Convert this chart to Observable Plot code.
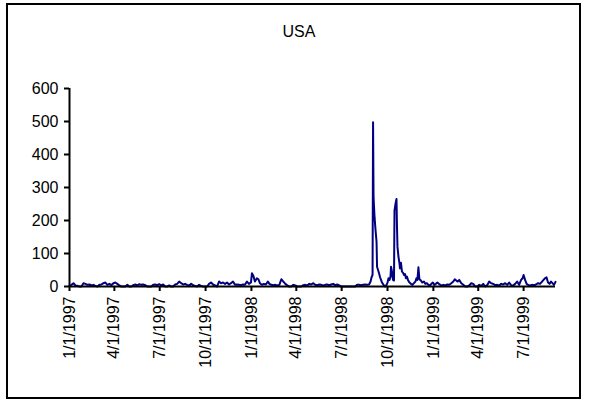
<!DOCTYPE html>
<html>
<head>
<meta charset="utf-8">
<script src="https://cdn.jsdelivr.net/npm/d3@7"></script>
<script src="https://cdn.jsdelivr.net/npm/@observablehq/plot@0.6"></script>
<style>
  html, body { margin: 0; padding: 0; background: #fff; }
  #wrap { position: relative; width: 589px; height: 405px; overflow: hidden; font-family: "Liberation Sans", Arial, sans-serif; }
  #frame { position: absolute; left: 6px; top: 3px; width: 575px; height: 396px; border: 2px solid #000; box-sizing: border-box; }
  #title { position: absolute; left: 0; width: 598px; top: 23px; text-align: center; font-size: 16px; color: #000; }
  #chart { position: absolute; left: 0; top: 0; }
</style>
</head>
<body>
<div id="wrap">
  <div id="frame"></div>
  <div id="title">USA</div>
  <div id="chart"></div>
</div>
<script>
const seriesStart = "1/1/1997";
const dayIndex = [0,4,8,12,16,20,24,28,32,36,40,44,48,52,56,60,64,68,72,76,80,84,88,92,96,100,104,108,112,116,120,124,128,132,136,140,144,148,152,156,160,164,168,172,176,180,184,188,192,196,200,204,208,212,216,220,224,228,232,236,240,244,248,252,256,260,264,268,272,276,280,284,288,292,296,300,304,308,312,316,320,324,328,332,336,340,344,348,352,356,360,364,366,369,372,376,379,382,386,390,394,398,401,405,409,413,417,421,425,429,433,437,441,445,449,453,457,461,465,469,473,477,481,485,489,493,497,501,505,509,513,517,521,525,529,533,537,541,545,549,553,557,561,565,569,573,577,581,585,589,593,597,601,604,606,608,609,610,612,614,616,617,619,621,623,625,627,630,633,636,638,640,642,644,645,647,649,651,652,654,656,657,658,660,662,663,665,667,669,671,673,675,677,679,682,685,688,691,694,696,698,700,702,705,708,711,714,717,720,723,726,729,732,735,738,741,744,747,750,754,758,762,766,770,773,776,779,782,786,790,794,798,802,806,810,814,818,822,826,830,834,838,842,846,850,854,858,862,866,870,874,878,882,886,890,894,898,902,906,909,911,914,917,920,924,928,932,936,940,944,948,951,954,957,960,963,966,969,972,975];
const usa = [2,5,10,3,2,0,0,10,8,5,6,3,5,2,0,5,6,10,12,5,8,4,10,12,8,3,0,0,0,5,0,0,4,6,3,7,5,6,4,0,0,0,5,6,4,7,3,6,0,0,3,0,0,6,8,15,10,6,8,5,3,8,4,2,0,5,2,0,0,0,8,12,6,3,0,15,10,12,8,12,6,10,15,5,6,5,4,6,5,15,8,12,40,32,15,25,22,10,5,8,6,15,8,5,4,5,3,5,22,15,8,3,0,0,5,3,0,0,0,4,5,3,8,6,10,5,4,6,5,3,5,6,4,6,8,4,6,3,0,0,0,0,0,0,0,0,5,5,4,5,6,5,6,15,28,35,498,270,210,170,135,60,50,40,28,20,12,5,0,5,12,25,20,30,60,45,20,18,230,250,265,180,120,90,70,55,72,45,42,35,38,25,30,20,12,8,5,10,15,25,20,58,22,18,12,15,8,10,5,3,8,12,5,8,12,8,5,3,5,3,6,5,10,15,22,18,15,20,10,5,0,0,3,10,8,0,0,5,2,8,0,4,15,10,8,4,5,3,8,6,10,5,12,4,3,8,15,5,20,25,35,20,8,5,3,5,4,6,10,8,15,20,25,28,12,8,15,10,5,14];
const tickLabels = ["1/1/1997","4/1/1997","7/1/1997","10/1/1997","1/1/1998","4/1/1998","7/1/1998","10/1/1998","1/1/1999","4/1/1999","7/1/1999"];
const yTicks = [0,100,200,300,400,500,600];

const parse = d3.utcParse("%m/%d/%Y");
const start = parse(seriesStart);
const data = dayIndex.map((d, i) => ({date: d3.utcDay.offset(start, d), value: usa[i]}));
const tickDates = tickLabels.map(parse);
const labelOf = new Map(tickDates.map((d, i) => [+d, tickLabels[i]]));

const chart = Plot.plot({
  width: 589,
  height: 405,
  marginLeft: 69,
  marginRight: 34,
  marginTop: 88,
  marginBottom: 119,
  style: {fontFamily: "Liberation Sans, Arial, sans-serif", fontSize: "16px", color: "#000", background: "transparent"},
  x: {type: "utc", domain: [start, data[data.length - 1].date]},
  y: {domain: [0, 600]},
  marks: [
    Plot.line(data, {x: "date", y: "value", stroke: "#000080", strokeWidth: 2}),
    Plot.ruleY([0], {stroke: "#000", strokeWidth: 2}),
    Plot.ruleX([start], {stroke: "#000", strokeWidth: 2}),
    Plot.axisY({ticks: yTicks, tickSize: 5, tickPadding: 6, strokeWidth: 2, fontSize: 16, label: null}),
    Plot.axisX({ticks: tickDates, tickFormat: d => labelOf.get(+d), tickSize: 5, tickPadding: 5, tickRotate: -90, strokeWidth: 2, fontSize: 16, label: null})
  ]
});
document.getElementById("chart").appendChild(chart);
</script>
</body>
</html>
